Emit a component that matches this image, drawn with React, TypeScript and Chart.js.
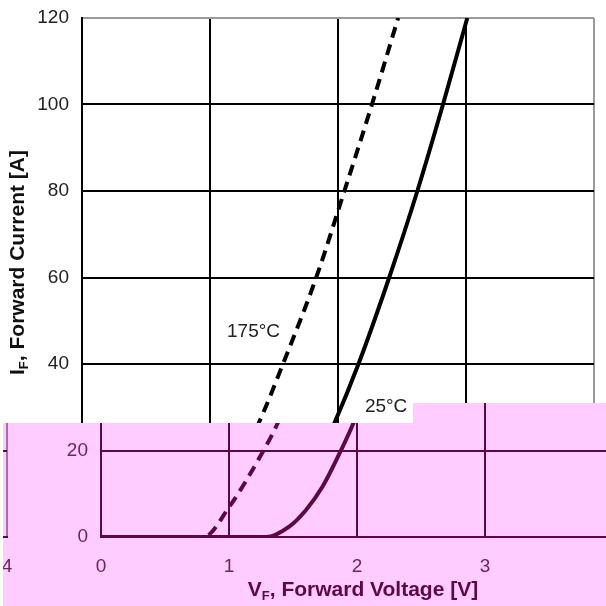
import React, { useEffect, useRef } from "react";
import { Chart, registerables } from "chart.js";

Chart.register(...registerables);

// ---- data ----
const voltageTicks = [0, 1, 2, 3, 4];
const currentTicks = [0, 20, 40, 60, 80, 100, 120];

const v25 = [0, 1.29, 1.47, 1.6, 1.73, 1.85, 1.96, 2.16, 2.4, 2.62, 2.82, 3.01];
const i25 = [0, 0, 2.4, 6.2, 11.6, 18.5, 25.5, 40, 60, 80, 100, 120];

const v175 = [0, 0.8, 1.0, 1.27, 1.38, 1.57, 1.83, 2.05, 2.265, 2.47];
const i175 = [0, 0, 6.9, 20, 26.3, 40, 60, 80, 100, 120];

const curveLabels = ["175°C", "25°C"];
const curveLabelV = [1.34, 2.21];
const curveLabelI = [47.4, 30];

const xTitleMain = "V";
const xTitleSub = "F";
const xTitleRest = ", Forward Voltage [V]";
const yTitleMain = "I";
const yTitleSub = "F";
const yTitleRest = ", Forward Current [A]";

type Theme = {
  bg: string;
  line: string;
  edge: string;
  text: string;
  title: string;
  labels: boolean;
};

const NORMAL: Theme = {
  bg: "#ffffff",
  line: "#000000",
  edge: "#9a9a9a",
  text: "#222222",
  title: "#111111",
  labels: true,
};

const PINK: Theme = {
  bg: "#ffccff",
  line: "#5c0842",
  edge: "#b268a6",
  text: "#6e2264",
  title: "#5c0842",
  labels: false,
};

const FONT = "'Liberation Sans', Arial, sans-serif";

function toPts(xs: number[], ys: number[]) {
  return xs.map((x, k) => ({ x, y: ys[k] }));
}

function drawSubTitle(
  ctx: CanvasRenderingContext2D,
  main: string,
  sub: string,
  rest: string,
  cx: number,
  cy: number,
  color: string
) {
  const big = `bold 21px ${FONT}`;
  const small = `bold 13px ${FONT}`;
  ctx.font = big;
  const w1 = ctx.measureText(main).width;
  const w3 = ctx.measureText(rest).width;
  ctx.font = small;
  const w2 = ctx.measureText(sub).width;
  const total = w1 + w2 + w3;
  let x = cx - total / 2;
  ctx.fillStyle = color;
  ctx.textBaseline = "middle";
  ctx.textAlign = "left";
  ctx.font = big;
  ctx.fillText(main, x, cy);
  x += w1;
  ctx.font = small;
  ctx.fillText(sub, x, cy + 6);
  x += w2;
  ctx.font = big;
  ctx.fillText(rest, x, cy);
}

function makeConfig(theme: Theme): any {
  const textPlugin = {
    id: "extraText",
    beforeDraw(chart: any) {
      const ctx = chart.ctx;
      ctx.save();
      ctx.fillStyle = theme.bg;
      ctx.fillRect(0, 0, chart.width, chart.height);
      ctx.restore();
    },
    afterDraw(chart: any) {
      const ctx = chart.ctx as CanvasRenderingContext2D;
      const xs = chart.scales.x;
      const ys = chart.scales.y;
      const area = chart.chartArea;
      ctx.save();
      if (theme.labels) {
        ctx.font = `19px ${FONT}`;
        ctx.fillStyle = theme.text;
        ctx.textBaseline = "middle";
        curveLabels.forEach((t, k) => {
          ctx.textAlign = k === 0 ? "center" : "left";
          ctx.fillText(t, xs.getPixelForValue(curveLabelV[k]), ys.getPixelForValue(curveLabelI[k]));
        });
      }
      drawSubTitle(
        ctx,
        xTitleMain,
        xTitleSub,
        xTitleRest,
        (area.left + area.right) / 2 + 6,
        area.bottom + 53,
        theme.title
      );
      ctx.save();
      ctx.translate(18, (area.top + area.bottom) / 2 - 15);
      ctx.rotate(-Math.PI / 2);
      drawSubTitle(ctx, yTitleMain, yTitleSub, yTitleRest, 0, 0, theme.title);
      ctx.restore();
      ctx.restore();
    },
  };

  return {
    type: "line",
    data: {
      datasets: [
        {
          label: "25°C",
          data: toPts(v25, i25),
          borderColor: theme.line,
          borderWidth: 4,
          pointRadius: 0,
          cubicInterpolationMode: "monotone",
          fill: false,
        },
        {
          label: "175°C",
          data: toPts(v175, i175),
          borderColor: theme.line,
          borderWidth: 4,
          borderDash: [11, 7],
          pointRadius: 0,
          cubicInterpolationMode: "monotone",
          fill: false,
        },
      ],
    },
    options: {
      animation: false,
      responsive: false,
      maintainAspectRatio: false,
      devicePixelRatio: 1,
      layout: { padding: { top: 18, right: 12, left: 0, bottom: 0 } },
      plugins: {
        legend: { display: false },
        tooltip: { enabled: false },
      },
      scales: {
        x: {
          type: "linear",
          min: 0,
          max: 4,
          afterBuildTicks(scale: any) {
            scale.ticks = voltageTicks.map((v) => ({ value: v }));
          },
          afterFit(scale: any) {
            scale.height = 69;
            scale.paddingLeft = 0;
            scale.paddingRight = 0;
            scale.paddingTop = 0;
            scale.paddingBottom = 0;
          },
          ticks: {
            font: { family: FONT, size: 19 },
            color: theme.text,
            padding: 18,
            maxRotation: 0,
            callback: (v: number) => String(v),
          },
          grid: {
            drawTicks: false,
            lineWidth: 2,
            color: (c: any) => (c.tick && c.tick.value === 4 ? theme.edge : theme.line),
          },
          border: { display: true, color: theme.line, width: 2 },
        },
        y: {
          type: "linear",
          min: 0,
          max: 120,
          afterBuildTicks(scale: any) {
            scale.ticks = currentTicks.map((v) => ({ value: v }));
          },
          afterFit(scale: any) {
            scale.width = 82;
            scale.paddingLeft = 0;
            scale.paddingRight = 0;
            scale.paddingTop = 0;
            scale.paddingBottom = 0;
          },
          ticks: {
            font: { family: FONT, size: 19 },
            color: theme.text,
            padding: 13,
            callback: (v: number) => String(v),
          },
          grid: {
            drawTicks: false,
            lineWidth: 2,
            color: (c: any) => (c.tick && c.tick.value === 120 ? theme.edge : theme.line),
          },
          border: { display: true, color: theme.line, width: 2 },
        },
      },
    },
    plugins: [textPlugin],
  };
}

function ChartView({ theme, left, top }: { theme: Theme; left: number; top: number }) {
  const ref = useRef<HTMLCanvasElement | null>(null);
  useEffect(() => {
    if (!ref.current) return;
    const chart = new Chart(ref.current, makeConfig(theme));
    return () => chart.destroy();
  }, [theme]);
  return (
    <canvas
      ref={ref}
      width={606}
      height={606}
      style={{ position: "absolute", left, top, width: 606, height: 606, display: "block" }}
    />
  );
}

const SHIFT = 19;

export default function App() {
  return (
    <div
      style={{
        position: "fixed",
        left: 0,
        top: 0,
        width: 606,
        height: 606,
        overflow: "hidden",
        background: "#fff",
      }}
    >
      <ChartView theme={NORMAL} left={0} top={0} />
      <div
        style={{
          position: "absolute",
          left: 413,
          top: 403,
          width: 193,
          height: 20,
          overflow: "hidden",
          background: PINK.bg,
        }}
      >
        <ChartView theme={PINK} left={SHIFT - 413} top={-403} />
      </div>
      <div
        style={{
          position: "absolute",
          left: 3,
          top: 423,
          width: 603,
          height: 183,
          overflow: "hidden",
          background: PINK.bg,
        }}
      >
        <ChartView theme={PINK} left={SHIFT - 3} top={-423} />
        <ChartView theme={PINK} left={SHIFT - 3 - 606} top={-423} />
      </div>
    </div>
  );
}
